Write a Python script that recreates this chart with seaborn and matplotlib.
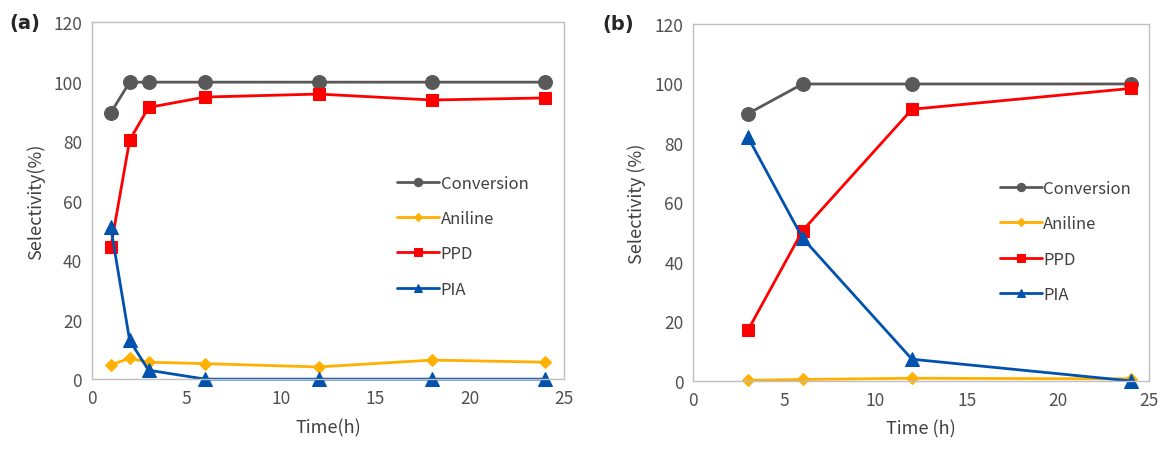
import numpy as np
import pandas as pd
import seaborn as sns
import matplotlib.pyplot as plt

# panel (a) data
time_a = [1, 2, 3, 6, 12, 18, 24]
conv_a = [89.5, 99.8, 99.8, 99.8, 99.8, 99.8, 99.8]
anil_a = [4.8, 7.0, 5.7, 5.2, 4.1, 6.4, 5.7]
ppd_a = [44.3, 80.3, 91.3, 94.8, 95.8, 93.8, 94.5]
pia_a = [51.0, 13.0, 3.0, 0.0, 0.0, 0.0, 0.0]

# panel (b) data
time_b = [3, 6, 12, 24]
conv_b = [89.8, 99.8, 99.8, 99.8]
anil_b = [0.2, 0.5, 0.9, 0.7]
ppd_b = [17.0, 50.5, 91.3, 98.3]
pia_b = [82.0, 48.0, 7.3, 0.0]

names = ["Conversion", "Aniline", "PPD", "PIA"]
colors = {"Conversion": "#595959", "Aniline": "#FFB000", "PPD": "#FF0000", "PIA": "#0052AE"}
markers = {"Conversion": "o", "Aniline": "D", "PPD": "s", "PIA": "^"}
msizes = {"Conversion": 10, "Aniline": 6.5, "PPD": 8.5, "PIA": 9.5}

sns.set_style("white")
plt.rcParams['font.family'] = ['Noto Sans CJK KR', 'DejaVu Sans']

fig = plt.figure(figsize=(11.63, 4.52), dpi=100)
ax1 = fig.add_axes([0.079, 0.159, 0.406, 0.790])
ax2 = fig.add_axes([0.596, 0.155, 0.392, 0.790])

panels = [
    (ax1, time_a, [conv_a, anil_a, ppd_a, pia_a], "Time(h)", "Selectivity(%)", "(a)", (0.615, 0.615), -0.175),
    (ax2, time_b, [conv_b, anil_b, ppd_b, pia_b], "Time (h)", "Selectivity (%)", "(b)", (0.64, 0.605), -0.2),
]

for ax, t, series, xl, yl, tag, lpos, tagx in panels:
    for name, vals in zip(names, series):
        df = pd.DataFrame({"Time": t, "Value": vals})
        sns.lineplot(data=df, x="Time", y="Value", ax=ax, color=colors[name],
                     marker=markers[name], markersize=msizes[name],
                     markeredgecolor=colors[name], linewidth=2, label=name,
                     clip_on=False)
    ax.set_xlim(0, 25)
    ax.set_ylim(0, 120)
    ax.set_xticks(range(0, 26, 5))
    ax.set_yticks(range(0, 121, 20))
    ax.tick_params(labelsize=12.5, colors="#505050", length=0, pad=7)
    ax.set_xlabel(xl, fontsize=13, color="#404040", labelpad=8)
    ax.set_ylabel(yl, fontsize=13, color="#404040", labelpad=6)
    for sp in ax.spines.values():
        sp.set_color("#BFBFBF")
        sp.set_linewidth(1)
    leg = ax.legend(loc="upper left", bbox_to_anchor=lpos, frameon=False,
                    fontsize=12, labelspacing=1.1, handlelength=2.5,
                    handletextpad=0.1, markerscale=0.6)
    for txt in leg.get_texts():
        txt.set_color("#404040")
    ax.text(tagx, 1.0, tag, transform=ax.transAxes,
            fontsize=14, fontweight="bold", ha="left", va="center",
            family=["DejaVu Sans"])

fig.savefig("out.png", dpi=100)
